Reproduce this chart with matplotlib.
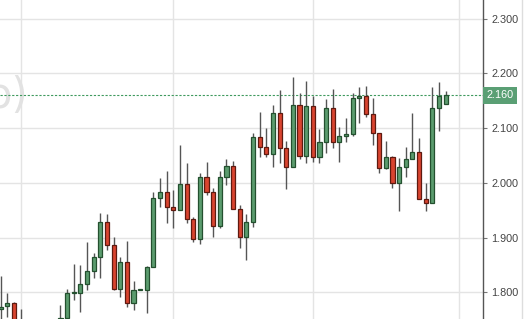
import numpy as np
import matplotlib
matplotlib.use("Agg")
import matplotlib.pyplot as plt

plt.rcParams['font.family'] = ['Liberation Sans', 'DejaVu Sans']

# daily OHLC, candles 4-8 are below the visible range
nan = np.nan
opens = [1.7693, 1.7753, 1.7814, 1.745, nan, nan, nan, nan, nan, 1.740,
         1.7529, 1.7985, 1.7985, 1.8150, 1.8398, 1.8643, 1.9288, 1.8862, 1.8058, 1.8552,
         1.7803, 1.8046, 1.8046, 1.8460, 1.9731, 1.9830, 1.9556, 1.9498, 1.9982, 1.9337,
         1.8972, 2.0104, 1.9830, 1.9220, 2.0104, 2.0310, 1.9520, 1.9008, 1.9282, 2.0835,
         2.0652, 2.0524, 2.1273, 2.0634, 2.0298, 2.1425, 2.0499, 2.1406, 2.0469, 2.0743,
         2.1364, 2.0743, 2.0855, 2.0889, 2.1547, 2.1595, 2.1260, 2.0908, 2.0268, 2.0469,
         1.9994, 2.0287, 2.0433, 2.0561, 1.9702, 1.9640, 2.1375, 2.1437]
highs = [1.8301, 1.7985, 1.7830, 1.7693, nan, nan, nan, nan, nan, 1.7772,
         1.8058, 1.8521, 1.8502, 1.8928, 1.8721, 1.9458, 1.9434, 1.9019, 1.8643, 1.8941,
         1.8210, 1.8055, 1.8484, 1.9841, 2.0097, 2.0225, 1.9863, 2.0694, 2.0360, 1.9373,
         2.0188, 2.0378, 1.9903, 2.0225, 2.0433, 2.0402, 1.9598, 1.9434, 2.0908, 2.1302,
         2.0999, 2.1425, 2.1699, 2.0773, 2.1942, 2.1649, 2.1863, 2.1589, 2.0981, 2.1529,
         2.1711, 2.1028, 2.1187, 2.1649, 2.1759, 2.1777, 2.1547, 2.0908, 2.0767, 2.0490,
         2.0451, 2.0652, 2.1273, 2.0816, 2.0005, 2.1759, 2.1850, 2.1680]
lows = [1.740, 1.7558, 1.725, 1.720, nan, nan, nan, nan, nan, 1.730,
        1.7529, 1.7863, 1.7649, 1.8046, 1.8265, 1.8265, 1.8776, 1.8046, 1.7923, 1.7741,
        1.7680, 1.8040, 1.7620, 1.8460, 1.9567, 1.9264, 1.9182, 1.9498, 1.9264, 1.8928,
        1.8886, 1.9781, 1.9008, 1.9173, 1.9963, 1.9520, 1.8807, 1.8594, 1.9191, 2.0480,
        2.0469, 2.0287, 2.0371, 1.9885, 2.0298, 2.0433, 2.0371, 2.0378, 2.0360, 2.0553,
        2.0634, 2.0389, 2.0754, 2.0858, 2.1090, 2.1211, 2.0694, 2.0177, 2.0250, 1.9903,
        1.9494, 2.0104, 2.0433, 1.9702, 1.9494, 1.9640, 2.0955, 2.1437]
closes = [1.7741, 1.7814, 1.735, 1.735, nan, nan, nan, nan, nan, 1.7529,
          1.7985, 1.7990, 1.8150, 1.8398, 1.8643, 1.9288, 1.8862, 1.8058, 1.8552, 1.7803,
          1.8046, 1.8046, 1.8460, 1.9731, 1.9830, 1.9556, 1.9498, 1.9982, 1.9337, 1.8972,
          2.0104, 1.9830, 1.9220, 2.0104, 2.0310, 1.9520, 1.9008, 1.9282, 2.0835, 2.0652,
          2.0524, 2.1273, 2.0634, 2.0298, 2.1425, 2.0499, 2.1406, 2.0469, 2.0743, 2.1364,
          2.0743, 2.0858, 2.0889, 2.1547, 2.1595, 2.1260, 2.0908, 2.0268, 2.0469, 1.9994,
          2.0287, 2.0433, 2.0561, 1.9702, 1.9640, 2.1375, 2.1589, 2.1600]

price_ticks = [1.8, 1.9, 2.0, 2.1, 2.2, 2.3]
month_lines = [3, 26, 47, 69]
last_price = 2.160

o = np.array(opens)
h = np.array(highs)
l = np.array(lows)
c = np.array(closes)
x = np.arange(len(o))
ok = ~np.isnan(o)
up = ok & (c >= o)
dn = ok & (c < o)

fig = plt.figure(figsize=(5.26, 3.19), dpi=100)
ax = fig.add_axes([0, 0, 483 / 526, 1])
ax.set_xlim(-0.105, 72.63)
ax.set_ylim(1.7516, 2.3342)

# grid
for p in price_ticks:
    ax.axhline(p, color='#e4e4e4', lw=1, zorder=0)
for m in month_lines:
    ax.axvline(m, color='#e4e4e4', lw=1, zorder=0)

# watermark remnant at left edge (display coords, origin bottom-left)
ax.text(28, 319 - 96, 'o)', transform=None, fontsize=30, color='#e2e2e2',
        ha='right', va='center', family='DejaVu Sans', zorder=0)

# candles
ax.vlines(x[ok], l[ok], h[ok], color='#555555', lw=1, zorder=2)
body = np.maximum(np.abs(c - o), 0.0015)
bottom = np.minimum(o, c)
ax.bar(x[up], body[up], bottom=bottom[up], width=0.62, color='#5b9c6e',
       edgecolor='#24502f', lw=0.9, zorder=3)
ax.bar(x[dn], body[dn], bottom=bottom[dn], width=0.62, color='#d9442f',
       edgecolor='#5e1a10', lw=0.9, zorder=3)

# last price line
ax.axhline(last_price, color='#3f9a5e', lw=0.8, ls=(0, (2, 1.5)), zorder=1)

# axis on the right
for s in ['top', 'left', 'bottom']:
    ax.spines[s].set_visible(False)
ax.spines['right'].set_color('#555555')
ax.spines['right'].set_linewidth(1)
ax.set_xticks([])
ax.yaxis.tick_right()
ax.set_yticks(price_ticks)
ax.set_yticklabels(['%.3f' % p for p in price_ticks])
ax.tick_params(axis='y', length=3, width=0.8, color='#777777', pad=3,
               labelsize=7.8, labelcolor='#444444')

# price tag
ax.annotate('%.3f' % last_price, xy=(1, last_price), xycoords=('axes fraction', 'data'),
            xytext=(2.5, 0), textcoords='offset points', ha='left', va='center',
            fontsize=7.8, color='white',
            bbox=dict(boxstyle='square,pad=0.35', fc='#5a9f74', ec='none'))

# right panel border
fig.add_artist(plt.Line2D([522 / 526, 522 / 526], [0, 1], color='#dddddd', lw=1))

fig.savefig('out.png', dpi=100, facecolor='white')
